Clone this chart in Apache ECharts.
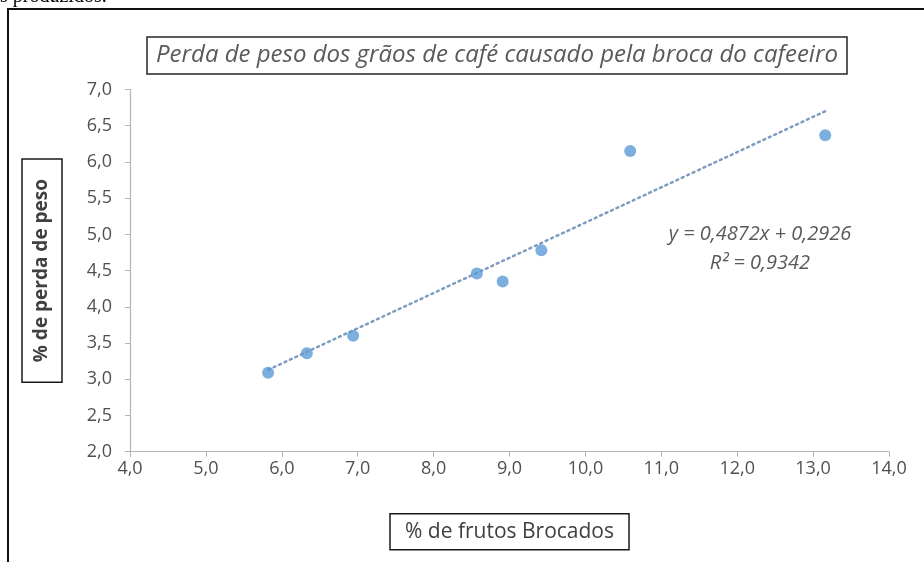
<!DOCTYPE html>
<html>
<head>
<meta charset="utf-8">
<script src="https://cdn.jsdelivr.net/npm/echarts@6/dist/echarts.min.js"></script>
<style>
  html, body { margin: 0; padding: 0; background: #fff; }
  #chart { width: 924px; height: 562px; }
</style>
</head>
<body>
<div id="chart"></div>
<script>
// dados
var frutosBrocados = [5.82, 6.33, 6.94, 8.57, 8.91, 9.42, 10.59, 13.16];
var perdaPeso = [3.09, 3.36, 3.60, 4.46, 4.35, 4.78, 6.15, 6.37];
// linha de tendência (extremos)
var tendenciaX = [5.82, 13.16];
var tendenciaY = [3.13, 6.70];
var equacao = 'y = 0,4872x + 0,2926';
var r2 = 'R² = 0,9342';

var chart = echarts.init(document.getElementById('chart'));

var pontos = frutosBrocados.map(function (x, i) { return [x, perdaPeso[i]]; });
var tendencia = tendenciaX.map(function (x, i) { return [x, tendenciaY[i]]; });

function virgula(v) {
    return v.toFixed(1).replace('.', ',');
}

var option = {
    animation: false,
    title: {
        text: 'Perda de peso dos grãos de café causado pela broca do cafeeiro',
        left: 147,
        top: 37,
        padding: [4, 9, 5, 9],
        borderColor: '#262626',
        borderWidth: 1.5,
        textStyle: {
            fontFamily: 'Open Sans',
            fontStyle: 'italic',
            fontWeight: 'normal',
            fontSize: 24,
            lineHeight: 28,
            color: '#595959'
        }
    },
    grid: {
        left: 130,
        right: 35,
        top: 89.5,
        bottom: 110.3
    },
    xAxis: {
        type: 'value',
        min: 4,
        max: 14,
        interval: 1,
        name: '% de frutos Brocados',
        nameLocation: 'middle',
        nameGap: 62,
        nameTextStyle: {
            fontFamily: 'Open Sans',
            fontSize: 21,
            lineHeight: 24,
            color: '#404040',
            borderColor: '#1a1a1a',
            borderWidth: 1.5,
            padding: [6, 15, 6, 15]
        },
        splitLine: { show: false },
        axisLine: { lineStyle: { color: '#b4b4b4', width: 1.2 } },
        axisTick: { inside: false, length: 5, lineStyle: { color: '#b4b4b4' } },
        axisLabel: {
            margin: 8,
            fontFamily: 'Open Sans',
            fontSize: 18,
            color: '#505050',
            formatter: virgula
        }
    },
    yAxis: {
        type: 'value',
        min: 2,
        max: 7,
        interval: 0.5,
        name: '% de perda de peso',
        nameLocation: 'middle',
        nameGap: 68,
        nameTextStyle: {
            fontFamily: 'Open Sans',
            fontWeight: 'bold',
            fontSize: 19,
            lineHeight: 22,
            color: '#404040',
            borderColor: '#1a1a1a',
            borderWidth: 1.5,
            padding: [9, 20, 9, 20]
        },
        splitLine: { show: false },
        axisLine: { show: true, lineStyle: { color: '#b4b4b4', width: 1.2 } },
        axisTick: { show: true, inside: false, length: 5, lineStyle: { color: '#b4b4b4' } },
        axisLabel: {
            margin: 18,
            fontFamily: 'Open Sans',
            fontSize: 18,
            color: '#505050',
            formatter: virgula
        }
    },
    series: [
        {
            name: 'tendência',
            type: 'line',
            data: tendencia,
            symbol: 'none',
            lineStyle: { type: [2, 4], width: 2.5, color: '#7f9cc0', cap: 'round' },
            z: 1
        },
        {
            name: 'perda',
            type: 'scatter',
            data: pontos,
            symbolSize: 12,
            itemStyle: { color: '#5b9bd5' },
            z: 2
        }
    ],
    graphic: [
        {
            type: 'rect',
            shape: { x: 8, y: 9, width: 1000, height: 1000 },
            style: { fill: 'none', stroke: '#111', lineWidth: 2 },
            silent: true
        },
        {
            type: 'text',
            left: 0,
            top: -13,
            style: {
                text: 's produzidos.',
                font: '20px "Liberation Serif", serif',
                fill: '#000'
            }
        },
        {
            type: 'text',
            x: 760,
            y: 234,
            style: {
                text: equacao,
                font: 'italic 20px "Open Sans"',
                fill: '#595959',
                align: 'center',
                verticalAlign: 'middle'
            }
        },
        {
            type: 'text',
            x: 760,
            y: 263,
            style: {
                text: r2,
                font: 'italic 20px "Open Sans"',
                fill: '#595959',
                align: 'center',
                verticalAlign: 'middle'
            }
        }
    ]
};

chart.setOption(option);
</script>
</body>
</html>
